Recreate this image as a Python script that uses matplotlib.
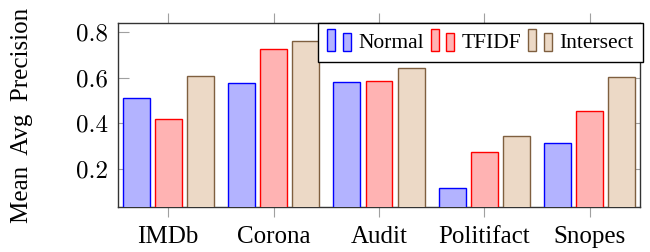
import numpy as np
import matplotlib.pyplot as plt
from matplotlib.legend_handler import HandlerBase
from matplotlib.patches import Rectangle

categories = ['IMDb', 'Corona', 'Audit', 'Politifact', 'Snopes']
normal = [0.513, 0.578, 0.580, 0.115, 0.313]
tfidf = [0.420, 0.725, 0.587, 0.275, 0.453]
intersect = [0.608, 0.763, 0.642, 0.343, 0.602]
series_names = ['Normal', 'TFIDF', 'Intersect']
yticks = [0.2, 0.4, 0.6, 0.8]
ytick_labels = ['0.2', '0.4', '0.6', '0.8']

fills = ['#b3b3ff', '#ffb3b3', '#ecd9c6']
edges = ['#0000ff', '#ff0000', '#7f5f3f']


class TwoBars(HandlerBase):
    # pgfplots style ybar legend image: two small bars
    def create_artists(self, legend, orig, xd, yd, width, height, fontsize, trans):
        w = width * 0.34
        r1 = Rectangle((-xd, -yd - 0.2 * height), w, 1.45 * height,
                       facecolor=orig.get_facecolor(), edgecolor=orig.get_edgecolor(),
                       linewidth=1.0, transform=trans)
        r2 = Rectangle((-xd + width - w, -yd - 0.2 * height), w, 1.15 * height,
                       facecolor=orig.get_facecolor(), edgecolor=orig.get_edgecolor(),
                       linewidth=1.0, transform=trans)
        return [r1, r2]


plt.rcParams['font.family'] = ['Liberation Serif', 'DejaVu Serif']

fig = plt.figure(figsize=(6.5, 2.52), dpi=100)
ax = fig.add_axes([118 / 650, 1 - 207 / 252, 522 / 650, 184 / 252])

x = np.arange(len(categories))
off = 0.304
bw = 0.256
bars = []
for i, vals in enumerate([normal, tfidf, intersect]):
    b = ax.bar(x + (i - 1) * off, vals, bw, color=fills[i], edgecolor=edges[i],
               linewidth=1.0, label=series_names[i], zorder=3)
    bars.append(b)

ax.set_xlim(-0.475, 4.475)
ax.set_ylim(0.033, 0.841)
ax.set_xticks(x)
ax.set_xticklabels(categories, fontsize=18)
ax.set_yticks(yticks)
ax.set_yticklabels(ytick_labels, fontsize=18, family='cmr10')

ax.tick_params(axis='x', direction='out', length=7.5, width=0.8, color='#a0a0a0',
               top=True, pad=6)
ax.tick_params(axis='y', direction='in', length=8, width=0.8, color='#a0a0a0',
               right=True, pad=7)
for s in ax.spines.values():
    s.set_color('#333333')
    s.set_linewidth(1.0)

ax.set_ylabel('Mean  Avg  Precision', fontsize=18)
ax.yaxis.set_label_coords(-0.163, 0.5)

leg = ax.legend([b.patches[0] for b in bars], series_names,
                handler_map={Rectangle: TwoBars()},
                loc='upper right', bbox_to_anchor=(1.006, 1.0), ncol=3,
                fontsize=15.5, frameon=True, fancybox=False, framealpha=1,
                edgecolor='black', borderpad=0.45, handlelength=1.1,
                handletextpad=0.35, columnspacing=0.3, borderaxespad=0)
leg.get_frame().set_linewidth(1.0)
leg.set_zorder(5)

fig.savefig('out.png', dpi=100)
